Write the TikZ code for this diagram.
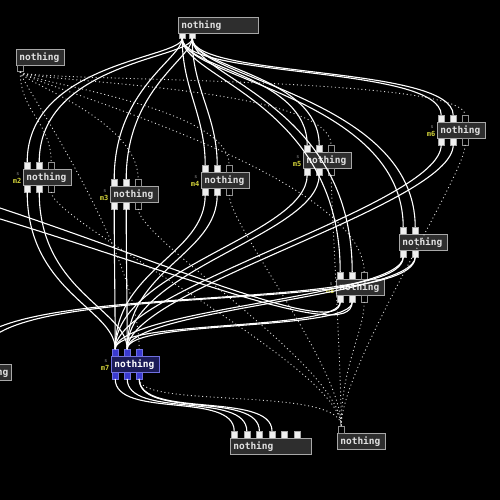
\documentclass[tikz,border=0pt]{standalone}
\usepackage{fontspec}
\newfontfamily\pdfont{DejaVu Sans Mono}
\definecolor{boxfill}{HTML}{2E2E2E}
\definecolor{boxline}{HTML}{A8A8A8}
\definecolor{txtc}{HTML}{E2E2E2}
\definecolor{ioc}{HTML}{F0F0F0}
\definecolor{iogray}{HTML}{909090}
\definecolor{selfill}{HTML}{1C1C58}
\definecolor{selline}{HTML}{7070E0}
\definecolor{selio}{HTML}{3A3AD0}
\definecolor{labc}{HTML}{D2D23A}
\tikzset{
  pbox/.style={draw=boxline, fill=boxfill, line width=0.7pt, text=txtc,
    font=\pdfont\bfseries\fontsize{9.5}{10}\selectfont, minimum height=16pt,
    minimum width=48pt, text width=42pt, inner xsep=3pt, inner ysep=0pt,
    align=left, anchor=north west},
  selbox/.style={pbox, draw=selline, fill=selfill, text=white},
  iof/.style={draw=boxline, fill=ioc, line width=0.4pt, minimum width=6pt,
    minimum height=6.5pt, inner sep=0pt},
  ioh/.style={iof, fill=black, draw=iogray},
  ios/.style={iof, fill=selio, draw=selline},
  labm/.style={text=labc, font=\pdfont\bfseries\fontsize{7}{7}\selectfont, inner sep=0pt},
  labs/.style={text=iogray, font=\pdfont\fontsize{5}{5}\selectfont, inner sep=0pt},
  cord/.style={draw=white, line width=1.1pt},
  dcord/.style={draw=white!85!black, line width=0.9pt, dash pattern=on 1pt off 2.8pt}
}
% name, x, y(top), label, box style, io style, third io style
\newcommand\mnode[7]{%
  \node[#5] (#1) at (#2,#3) {nothing};
  \foreach \k in {0,1}{
    \node[#6,anchor=south west] (#1i\k) at ({#2+1+12*\k},#3) {};
    \node[#6,anchor=north west] (#1o\k) at ({#2+1+12*\k},{#3+16}) {};
  }
  \node[#7,anchor=south west] (#1i2) at ({#2+25},#3) {};
  \node[#7,anchor=north west] (#1o2) at ({#2+25},{#3+16}) {};
  \node[labm,anchor=south east] (#1lab) at ({#2-1.5},{#3+15}) {#4};
  \node[labs] (#1s) at ({#2-5},{#3+5}) {s};
}
\newcommand\cordk[4]{\draw[cord] (#1.south) .. controls +(0,#3) and +(0,-#4) .. (#2.north);}
\newcommand\dcordk[4]{\draw[dcord] (#1.south) .. controls +(0,#3) and +(0,-#4) .. (#2.north);}
\begin{document}
\begin{tikzpicture}[x=1pt,y=-1pt]
\fill[black] (0,0) rectangle (500,500);
\useasboundingbox (0,0) rectangle (500,500);
\clip (0,0) rectangle (500,500);

% ---- plain objects ----
\node[pbox, minimum width=80pt, text width=74pt] (top) at (178,17) {nothing};
\node[iof, minimum height=5pt, anchor=north west] (topo0) at (179,33) {};
\node[iof, minimum height=5pt, anchor=north west] (topo1) at (189,33) {};

\node[pbox] (n1) at (16,49) {nothing};
\node[ioh, anchor=north west] (n1o0) at (17,65) {};

\node[pbox] (n8) at (399,234) {nothing};
\foreach \k in {0,1}{
  \node[iof,anchor=south west] (n8i\k) at ({400+12*\k},234) {};
  \node[iof,anchor=north west] (n8o\k) at ({400+12*\k},250) {};
}

\node[pbox, minimum width=81pt, text width=75pt] (bot) at (230,438) {nothing};
\foreach \k in {0,...,5}{
  \node[iof,anchor=south west] (bi\k) at ({231+12.6*\k},438) {};
}

\node[pbox] (nbr) at (337,433) {nothing};
\node[ioh,anchor=south west] (nbri0) at (338,433) {};

\node[pbox, minimum width=46pt, text width=40pt] (lnode) at (-35,364) {nothing};
\node[iof,anchor=south west] (li0) at (-34,364) {};
\node[iof,anchor=south west] (li1) at (-22,364) {};

% ---- m objects ----
\mnode{m2}{23}{169}{m2}{pbox}{iof}{ioh}
\mnode{m3}{110}{186}{m3}{pbox}{iof}{ioh}
\mnode{m4}{201}{172}{m4}{pbox}{iof}{ioh}
\mnode{m5}{303}{152}{m5}{pbox}{iof}{ioh}
\mnode{m6}{437}{122}{m6}{pbox}{iof}{ioh}
\mnode{m8}{336}{279}{m8}{pbox}{iof}{ioh}
\mnode{m7}{111}{356}{m7}{selbox}{ios}{ios}

\coordinate (offA) at (-40,195);
\coordinate (offB) at (-40,207);

% ---- solid cords from top ----
\cordk{topo0}{m2i0}{20}{100}
\cordk{topo1}{m2i1}{20}{100}
\cordk{topo0}{m3i0}{20}{90}
\cordk{topo1}{m3i1}{20}{90}
\cordk{topo0}{m4i0}{50}{50}
\cordk{topo1}{m4i1}{50}{50}
\cordk{topo0}{m5i0}{30}{70}
\cordk{topo1}{m5i1}{30}{70}
\cordk{topo0}{m6i0}{40}{50}
\cordk{topo1}{m6i1}{40}{50}
\cordk{topo0}{n8i0}{40}{130}
\cordk{topo1}{n8i1}{40}{130}
\cordk{topo0}{m8i0}{40}{170}
\cordk{topo1}{m8i1}{40}{170}

% ---- solid cords into m7 ----
\cordk{m2o0}{m7i0}{100}{40}
\cordk{m2o1}{m7i1}{100}{40}
\cordk{m3o0}{m7i0}{40}{40}
\cordk{m3o1}{m7i1}{40}{40}
\cordk{m4o0}{m7i0}{60}{80}
\cordk{m4o1}{m7i1}{60}{80}
\cordk{m5o0}{m7i0}{60}{80}
\cordk{m5o1}{m7i1}{60}{80}
\cordk{m6o0}{m7i0}{60}{60}
\cordk{m6o1}{m7i1}{60}{60}
\cordk{n8o0}{m7i0}{40}{40}
\cordk{n8o1}{m7i1}{40}{40}
\cordk{m8o0}{m7i0}{30}{30}
\cordk{m8o1}{m7i1}{30}{30}

% ---- m7 to bottom ----
\cordk{m7o0}{bi0}{40}{40}
\cordk{m7o1}{bi1}{40}{40}
\cordk{m7o2}{bi2}{40}{40}
\cordk{m7o2}{bi3}{40}{40}

% ---- long cords to the left ----
\cordk{n8o0}{li0}{60}{80}
\cordk{n8o1}{li1}{60}{80}
\draw[cord] (m8o0.south) .. controls +(0,40) and (150,255) .. (offA);
\draw[cord] (m8o1.south) .. controls +(0,45) and (160,265) .. (offB);

% ---- dotted signal cords ----
\dcordk{n1o0}{m2i2}{40}{40}
\dcordk{n1o0}{m3i2}{10}{60}
\dcordk{n1o0}{m4i2}{10}{60}
\dcordk{n1o0}{m5i2}{10}{60}
\dcordk{n1o0}{m6i2}{10}{40}
\dcordk{n1o0}{m8i2}{10}{100}
\dcordk{n1o0}{m7i2}{10}{100}
\dcordk{m2o2}{nbri0}{30}{60}
\dcordk{m3o2}{nbri0}{30}{60}
\dcordk{m4o2}{nbri0}{30}{60}
\dcordk{m5o2}{nbri0}{30}{60}
\dcordk{m6o2}{nbri0}{30}{60}
\dcordk{m8o2}{nbri0}{30}{60}
\dcordk{m7o2}{nbri0}{30}{40}
\end{tikzpicture}
\end{document}
